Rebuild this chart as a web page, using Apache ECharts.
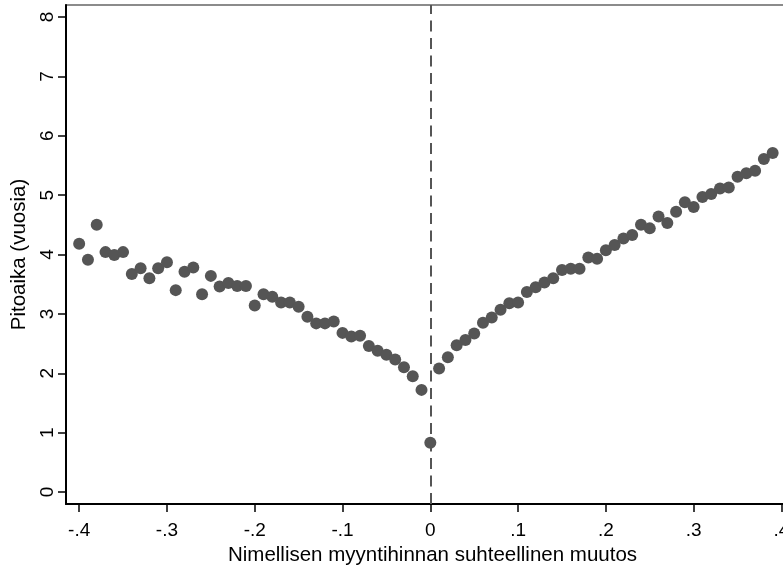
<!DOCTYPE html>
<html>
<head>
<meta charset="utf-8">
<script src="https://cdn.jsdelivr.net/npm/echarts@6/dist/echarts.min.js"></script>
<style>
html,body{margin:0;padding:0;background:#fff;}
#c{width:783px;height:565px;}
</style>
</head>
<body>
<div id="c"></div>
<script>
var xValues = [-0.40,-0.39,-0.38,-0.37,-0.36,-0.35,-0.34,-0.33,-0.32,-0.31,-0.30,-0.29,-0.28,-0.27,-0.26,-0.25,-0.24,-0.23,-0.22,-0.21,-0.20,-0.19,-0.18,-0.17,-0.16,-0.15,-0.14,-0.13,-0.12,-0.11,-0.10,-0.09,-0.08,-0.07,-0.06,-0.05,-0.04,-0.03,-0.02,-0.01,0.00,0.01,0.02,0.03,0.04,0.05,0.06,0.07,0.08,0.09,0.10,0.11,0.12,0.13,0.14,0.15,0.16,0.17,0.18,0.19,0.20,0.21,0.22,0.23,0.24,0.25,0.26,0.27,0.28,0.29,0.30,0.31,0.32,0.33,0.34,0.35,0.36,0.37,0.38,0.39];
var yValues = [4.18,3.91,4.50,4.04,3.99,4.04,3.67,3.77,3.60,3.77,3.87,3.40,3.71,3.78,3.33,3.64,3.46,3.52,3.47,3.47,3.14,3.33,3.29,3.19,3.19,3.12,2.95,2.84,2.84,2.87,2.68,2.62,2.63,2.46,2.38,2.31,2.23,2.10,1.95,1.72,0.83,2.08,2.27,2.47,2.56,2.67,2.85,2.94,3.07,3.18,3.19,3.37,3.45,3.53,3.60,3.74,3.76,3.76,3.95,3.93,4.07,4.16,4.27,4.33,4.50,4.44,4.64,4.53,4.72,4.88,4.80,4.97,5.02,5.11,5.13,5.31,5.37,5.41,5.61,5.71];
var xTicks = [-0.4,-0.3,-0.2,-0.1,0,0.1,0.2,0.3,0.4];
var yTicks = [0,1,2,3,4,5,6,7,8];
var xTitle = 'Nimellisen myyntihinnan suhteellinen muutos';
var yTitle = 'Pitoaika (vuosia)';

var points = xValues.map(function(x,i){return [x, yValues[i]];});
function fmtX(v){
  var r = Math.round(v*10);
  if (r === 0) return '0';
  return (r<0?'-':'') + '.' + Math.abs(r);
}
var font = 'Liberation Sans';
var chart = echarts.init(document.getElementById('c'), null, {renderer:'canvas'});
chart.setOption({
  animation:false,
  backgroundColor:'#fff',
  textStyle:{fontFamily:font},
  grid:{left:66, top:5, width:733, height:499, outerBoundsMode:'none', containLabel:false, show:true, borderColor:'#666', borderWidth:1.5, backgroundColor:'transparent'},
  xAxis:{
    type:'value', min:-0.415, max:0.42,
    name:xTitle, nameLocation:'middle', nameGap:37,
    nameTextStyle:{fontSize:20.5, color:'#000', fontFamily:font},
    axisLine:{show:true, onZero:false, lineStyle:{color:'#000', width:2}},
    axisTick:{show:true, customValues:xTicks, length:8, lineStyle:{color:'#000', width:1.5}},
    axisLabel:{customValues:xTicks, formatter:fmtX, fontSize:19, color:'#000', margin:17, fontFamily:font},
    splitLine:{show:false}
  },
  yAxis:{
    type:'value', min:-0.202, max:8.202,
    name:yTitle, nameLocation:'middle', nameGap:34, nameRotate:90,
    nameTextStyle:{fontSize:20.5, color:'#000', fontFamily:font},
    axisLine:{show:true, onZero:false, lineStyle:{color:'#000', width:2}},
    axisTick:{show:true, customValues:yTicks, length:8, lineStyle:{color:'#000', width:1.5}},
    axisLabel:{customValues:yTicks, rotate:90, fontSize:19, color:'#000', margin:9, fontFamily:font},
    splitLine:{show:false}
  },
  series:[{
    type:'scatter',
    data:points,
    symbol:'circle',
    symbolSize:12,
    itemStyle:{color:'#555555', opacity:1},
    markLine:{
      silent:true, symbol:['none','none'], label:{show:false},
      lineStyle:{type:[11,6.5], color:'#555', width:2},
      data:[{xAxis:0}]
    }
  }]
});
</script>
</body>
</html>
